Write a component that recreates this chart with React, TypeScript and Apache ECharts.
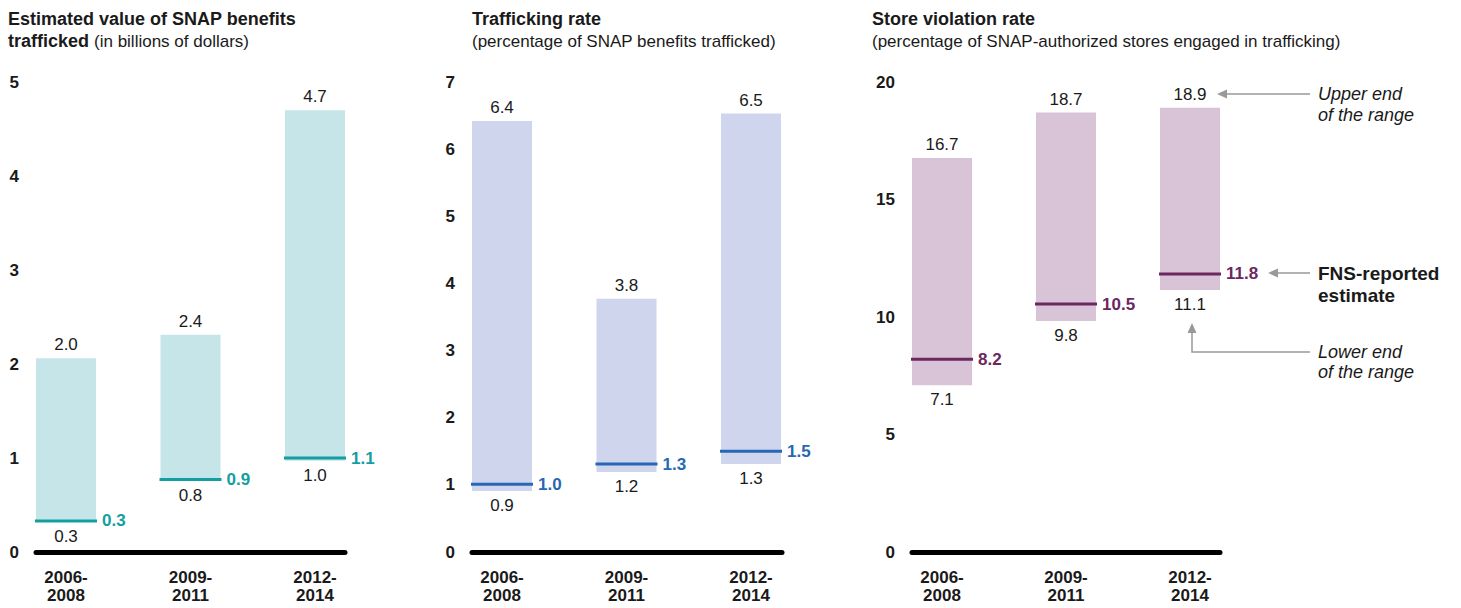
import React, { useEffect, useRef } from 'react';
import * as echarts from 'echarts';

const FONT = '"Liberation Sans", Arial, Helvetica, sans-serif';

const categories = ['2006-\n2008', '2009-\n2011', '2012-\n2014'];

// Panel 1: Estimated value of SNAP benefits trafficked (billions of dollars)
const valueLow = [0.32, 0.76, 0.97];
const valueHigh = [2.06, 2.31, 4.7];
const valueEst = [0.33, 0.77, 1.0];
const valueLowLabels = ['0.3', '0.8', '1.0'];
const valueHighLabels = ['2.0', '2.4', '4.7'];
const valueEstLabels = ['0.3', '0.9', '1.1'];

// Panel 2: Trafficking rate (%)
const rateLow = [0.91, 1.19, 1.31];
const rateHigh = [6.42, 3.77, 6.53];
const rateEst = [1.01, 1.31, 1.5];
const rateLowLabels = ['0.9', '1.2', '1.3'];
const rateHighLabels = ['6.4', '3.8', '6.5'];
const rateEstLabels = ['1.0', '1.3', '1.5'];

// Panel 3: Store violation rate (%)
const storeLow = [7.1, 9.83, 11.15];
const storeHigh = [16.77, 18.7, 18.9];
const storeEst = [8.2, 10.55, 11.83];
const storeLowLabels = ['7.1', '9.8', '11.1'];
const storeHighLabels = ['16.7', '18.7', '18.9'];
const storeEstLabels = ['8.2', '10.5', '11.8'];

const TEXT = '#1a1a1a';

type PanelCfg = {
  axisLeft: number;
  axisWidth: number;
  barLeft: number;
  barSpan: number;
  yMax: number;
  yInterval: number;
  low: number[];
  high: number[];
  est: number[];
  lowLabels: string[];
  highLabels: string[];
  estLabels: string[];
  barColor: string;
  lineColor: string;
};

const panels: PanelCfg[] = [
  {
    axisLeft: 36, axisWidth: 309, barLeft: 66, barSpan: 249, yMax: 5, yInterval: 1,
    low: valueLow, high: valueHigh, est: valueEst,
    lowLabels: valueLowLabels, highLabels: valueHighLabels, estLabels: valueEstLabels,
    barColor: '#c5e5e8', lineColor: '#139ea1',
  },
  {
    axisLeft: 472, axisWidth: 310, barLeft: 502, barSpan: 249, yMax: 7, yInterval: 1,
    low: rateLow, high: rateHigh, est: rateEst,
    lowLabels: rateLowLabels, highLabels: rateHighLabels, estLabels: rateEstLabels,
    barColor: '#d0d5ee', lineColor: '#2767b3',
  },
  {
    axisLeft: 912, axisWidth: 308, barLeft: 942, barSpan: 248, yMax: 20, yInterval: 5,
    low: storeLow, high: storeHigh, est: storeEst,
    lowLabels: storeLowLabels, highLabels: storeHighLabels, estLabels: storeEstLabels,
    barColor: '#d8c4d6', lineColor: '#6b275f',
  },
];

function buildOption() {
  const grid: any[] = [];
  const xAxis: any[] = [];
  const yAxis: any[] = [];
  const series: any[] = [];

  panels.forEach((p, i) => {
    const a = 2 * i;
    const b = 2 * i + 1;
    grid.push({ left: p.axisLeft, top: 82, width: p.axisWidth, height: 470 });
    grid.push({ left: p.barLeft, top: 82, width: p.barSpan, height: 470 });

    xAxis.push({
      type: 'category', gridIndex: a, data: categories,
      axisLabel: { show: false }, axisTick: { show: false }, splitLine: { show: false },
      axisLine: { show: true, lineStyle: { color: '#000', width: 5 } },
    });
    xAxis.push({
      type: 'category', gridIndex: b, data: categories, boundaryGap: false,
      axisLine: { show: false }, axisTick: { show: false }, splitLine: { show: false },
      axisLabel: {
        show: true, interval: 0, margin: 16, color: TEXT, fontFamily: FONT,
        fontSize: 17, fontWeight: 'bold', lineHeight: 18,
      },
    });
    yAxis.push({
      type: 'value', gridIndex: a, min: 0, max: p.yMax, interval: p.yInterval,
      axisLine: { show: false }, axisTick: { show: false }, splitLine: { show: false },
      axisLabel: { color: TEXT, fontFamily: FONT, fontSize: 17, fontWeight: 'bold', margin: 17 },
    });
    yAxis.push({
      type: 'value', gridIndex: b, min: 0, max: p.yMax, interval: p.yInterval, show: false,
      splitLine: { show: false },
    });

    const stack = 'range' + i;
    series.push({
      type: 'bar', xAxisIndex: b, yAxisIndex: b, stack, barWidth: 60, clip: false,
      data: p.low,
      itemStyle: { color: 'rgba(0,0,0,0)' },
      label: {
        show: true, position: 'insideTop', distance: 6, color: TEXT, fontFamily: FONT, fontSize: 17,
        formatter: (prm: any) => p.lowLabels[prm.dataIndex],
      },
      silent: true,
    });
    series.push({
      type: 'bar', xAxisIndex: b, yAxisIndex: b, stack, barWidth: 60, clip: false,
      data: p.high.map((h, k) => +(h - p.low[k]).toFixed(3)),
      itemStyle: { color: p.barColor },
      label: {
        show: true, position: 'top', distance: 5, color: TEXT, fontFamily: FONT, fontSize: 17,
        formatter: (prm: any) => p.highLabels[prm.dataIndex],
      },
    });
    series.push({
      type: 'scatter', xAxisIndex: b, yAxisIndex: b, clip: false, z: 5,
      data: p.est,
      symbol: 'rect', symbolSize: [62, 3],
      itemStyle: { color: p.lineColor, opacity: 1 },
      label: {
        show: true, position: 'right', distance: 5, color: p.lineColor, fontFamily: FONT,
        fontSize: 17, fontWeight: 'bold', opacity: 1,
        formatter: (prm: any) => p.estLabels[prm.dataIndex],
      },
    });
  });

  const titleRich = {
    b: { fontFamily: FONT, fontSize: 18, fontWeight: 'bold', color: TEXT, lineHeight: 22 },
    n: { fontFamily: FONT, fontSize: 17, fontWeight: 'normal', color: TEXT, lineHeight: 22 },
  };

  const title = [
    { left: 8, top: 8, padding: 0, text: '{b|Estimated value of SNAP benefits}\n{b|trafficked} {n|(in billions of dollars)}', textStyle: { rich: titleRich } },
    { left: 472, top: 8, padding: 0, text: '{b|Trafficking rate}\n{n|(percentage of SNAP benefits trafficked)}', textStyle: { rich: titleRich } },
    { left: 872, top: 8, padding: 0, text: '{b|Store violation rate}\n{n|(percentage of SNAP-authorized stores engaged in trafficking)}', textStyle: { rich: titleRich } },
  ];

  const GREY = '#999999';
  const annoText = (text: string, y: number, style: any) => ({
    type: 'text', x: 1318, y,
    style: { text, fill: TEXT, fontFamily: FONT, fontSize: 18, verticalAlign: 'middle', align: 'left', ...style },
  });

  const graphic = [
    // Upper end arrow
    { type: 'line', shape: { x1: 1310, y1: 94, x2: 1224, y2: 94 }, style: { stroke: GREY, lineWidth: 1.5 } },
    { type: 'polygon', shape: { points: [[1217, 94], [1227, 89.5], [1227, 98.5]] }, style: { fill: GREY } },
    // FNS arrow
    { type: 'line', shape: { x1: 1310, y1: 273, x2: 1275, y2: 273 }, style: { stroke: GREY, lineWidth: 1.5 } },
    { type: 'polygon', shape: { points: [[1268, 273], [1278, 268.5], [1278, 277.5]] }, style: { fill: GREY } },
    // Lower end elbow arrow
    { type: 'polyline', shape: { points: [[1310, 352], [1192, 352], [1192, 330]] }, style: { stroke: GREY, lineWidth: 1.5, fill: null } },
    { type: 'polygon', shape: { points: [[1192, 323], [1187.5, 333], [1196.5, 333]] }, style: { fill: GREY } },
    annoText('Upper end', 94, { fontStyle: 'italic' }),
    annoText('of the range', 115, { fontStyle: 'italic' }),
    annoText('FNS-reported', 273, { fontWeight: 'bold', fontSize: 19 }),
    annoText('estimate', 295, { fontWeight: 'bold', fontSize: 19 }),
    annoText('Lower end', 352, { fontStyle: 'italic' }),
    annoText('of the range', 372, { fontStyle: 'italic' }),
  ];

  return {
    animation: false,
    backgroundColor: '#ffffff',
    textStyle: { fontFamily: FONT },
    title,
    grid,
    xAxis,
    yAxis,
    series,
    graphic,
  };
}

export default function App() {
  const ref = useRef<HTMLDivElement>(null);
  useEffect(() => {
    if (!ref.current) return;
    const chart = echarts.init(ref.current, undefined, { renderer: 'svg' });
    chart.setOption(buildOption() as any);
    return () => chart.dispose();
  }, []);
  return (
    <div
      ref={ref}
      style={{ position: 'absolute', left: 0, top: 0, width: 1461, height: 608, background: '#fff' }}
    />
  );
}
